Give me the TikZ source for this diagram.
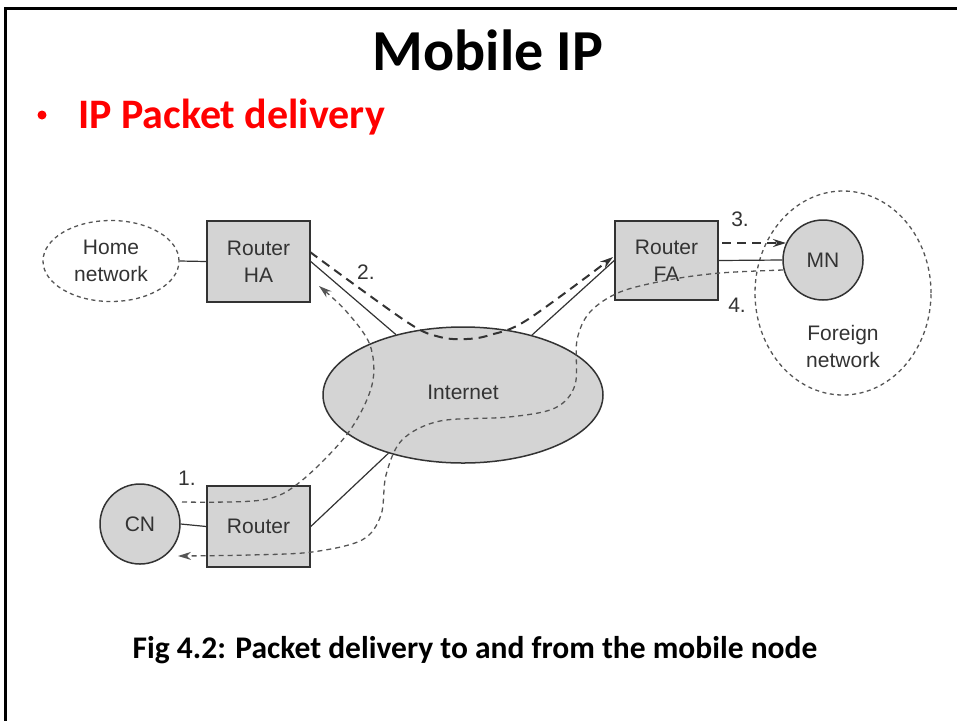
\documentclass[tikz,border=0pt]{standalone}
\usepackage{fontspec}
\setmainfont{Carlito}
\newfontfamily\diagfont{Liberation Sans}
\usetikzlibrary{arrows.meta,shapes.geometric}
\definecolor{boxfill}{HTML}{D4D4D4}
\definecolor{edge}{HTML}{333333}
\definecolor{flow}{HTML}{555555}
\tikzset{
  every node/.style={font=\diagfont\fontsize{21}{27}\selectfont, text=edge, align=center},
  router/.style={draw=edge, line width=1.5pt, fill=boxfill, minimum width=103pt, minimum height=81pt, inner sep=0pt},
  host/.style={draw=edge, line width=1.5pt, fill=boxfill, circle, minimum size=80pt, inner sep=0pt},
  cloud/.style={draw=flow, line width=1.3pt, dash pattern=on 4pt off 3.5pt, ellipse, inner sep=0pt},
  link/.style={draw=edge, line width=1.2pt},
  tunnel/.style={draw=edge, line width=2pt, dash pattern=on 9pt off 6pt, -{Stealth[length=13pt,width=8pt]}},
  reply/.style={draw=flow, line width=1.3pt, dash pattern=on 5pt off 4pt, -{Stealth[length=13pt,width=8pt]}},
  steplabel/.style={font=\diagfont\fontsize{21}{27}\selectfont, anchor=base}
}
\begin{document}
\begin{tikzpicture}[x=1pt, y=-1pt]
\useasboundingbox (0,0) rectangle (957,721);
% slide frame
\draw[line width=3pt] (4,8.5) -- (957,8.5);
\draw[line width=2.5pt] (5.5,8) -- (5.5,721);

% headings
\node[font=\bfseries\fontsize{58}{60}\selectfont, text=black, anchor=base] (title) at (488,70) {Mobile IP};
\node[circle, fill=red, minimum size=9pt, inner sep=0pt] (bullet) at (42,115) {};
\node[font=\bfseries\fontsize{42}{44}\selectfont, text=red, anchor=base west, inner sep=0pt] (sub) at (78,128) {IP Packet delivery};
\node[font=\bfseries\fontsize{31.5}{34}\selectfont, text=black, anchor=base] (caption) at (475,658) {Fig 4.2: Packet delivery to and from the mobile node};

% network elements
\node[cloud, minimum width=136pt, minimum height=81pt] (home) at (111,261) {Home\\network};
\node[cloud, minimum width=176pt, minimum height=204pt] (foreign) at (843,293) {};
\node (foreigntext) at (843,346) {Foreign\\network};
\node[router] (HA) at (258.5,261.5) {Router\\HA};
\node[router, minimum height=79pt] (FA) at (666.5,260.5) {Router\\FA};
\node[router] (R) at (258.5,526.5) {Router};
\node[host] (MN) at (823,260) {MN};
\node[host] (CN) at (140,524) {CN};
\node[draw=edge, line width=1.5pt, fill=boxfill, ellipse, minimum width=280pt, minimum height=136pt, inner sep=0pt] (inet) at (463,395) {};
\node (inettext) at (463,392) {Internet};

% physical links
\draw[link] (home.east) -- (HA.west);
\draw[link] (FA.east) -- (MN.west);
\draw[link] (CN.east) -- (R.west);
\draw[link] (HA.east) -- (inet.138);
\draw[link] (inet.41) -- (FA.west);
\draw[link] (R.east) -- (inet.218);

% packet paths
\coordinate (p1s) at (182,502);
\coordinate (p1e) at (319,286);
\draw[reply] plot[smooth, tension=0.55] coordinates {(p1s) (262,500) (300,482) (348,433) (372,385) (370,345) (346,311) (p1e)};

\coordinate (p2s) at (310,252);
\coordinate (p2e) at (613,257);
\draw[tunnel] plot[smooth, tension=0.55] coordinates {(p2s) (407,322) (440,337) (467,339) (490,335) (527,320) (p2e)};

\coordinate (p3s) at (722,243);
\coordinate (p3e) at (786,243);
\draw[tunnel] (p3s) -- (p3e);

\coordinate (p4s) at (783,270);
\coordinate (p4e) at (178,556);
\draw[reply] plot[smooth, tension=0.55] coordinates {(p4s) (720,273) (668,280) (620,292) (590,312) (577,340) (575,385) (555,408) (509,417) (440,421) (402,440) (386,475) (381,515) (362,540) (312,552) (250,555) (p4e)};

% step numbers
\node[steplabel] (n1) at (187,485) {1.};
\node[steplabel] (n2) at (366,279) {2.};
\node[steplabel] (n3) at (740,226) {3.};
\node[steplabel] (n4) at (737,312) {4.};
\end{tikzpicture}
\end{document}
